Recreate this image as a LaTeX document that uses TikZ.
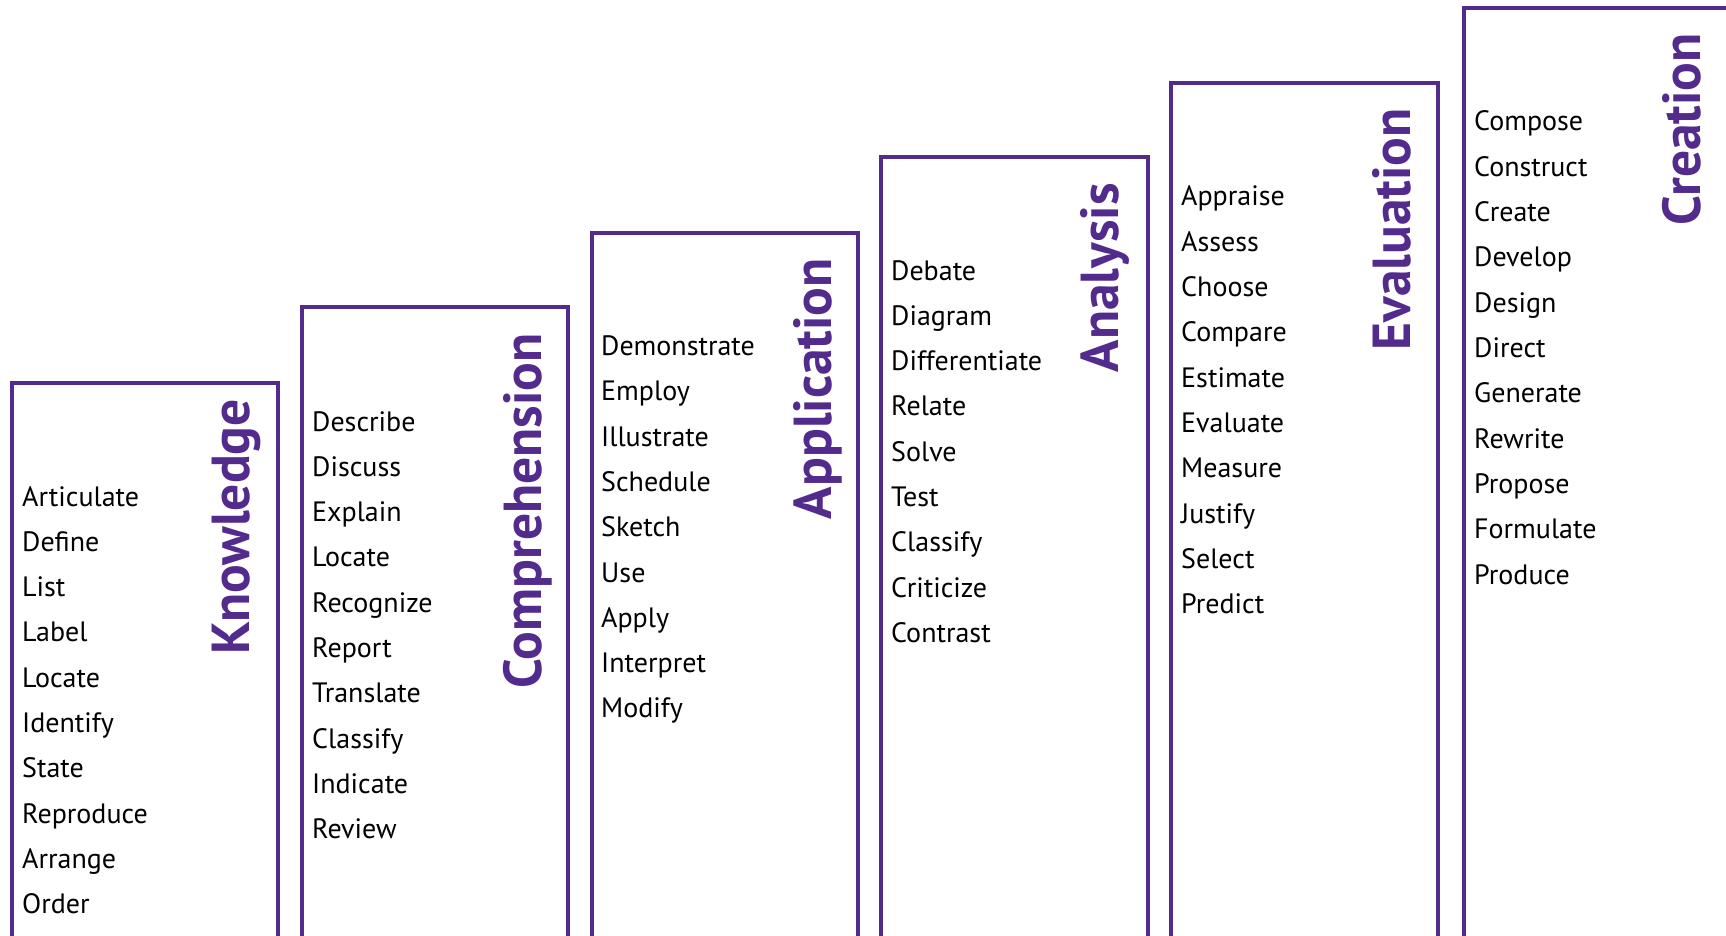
\documentclass[tikz,border=0pt]{standalone}
\usepackage{fontspec}
\setmainfont{PT Sans}
\definecolor{bpurple}{RGB}{82,43,140}
\newcommand{\wordfont}{\fontsize{28}{32}\selectfont}
\newcommand{\titlefont}{\fontsize{53.5}{60}\selectfont\bfseries}
\tikzset{
  frame/.style={draw=bpurple, line width=3.5pt},
  word/.style={anchor=base west, inner sep=0pt, font=\wordfont},
  ttl/.style={anchor=base east, rotate=90, inner sep=0pt, text=bpurple, font=\titlefont}
}
\begin{document}
\begin{tikzpicture}[x=1pt,y=-1pt]
\useasboundingbox (0,0) rectangle (1726,936);
\begin{scope}
\clip (0,0) rectangle (1726,936);
\draw[frame] (12,383) rectangle (278,937.5);
\draw[frame] (302,307) rectangle (568,937.5);
\draw[frame] (592,233) rectangle (858,937.5);
\draw[frame] (881,157) rectangle (1148,937.5);
\draw[frame] (1171,83) rectangle (1438,937.5);
\draw[frame] (1464,8) rectangle (1729,937.5);
\end{scope}
% titles
\node[ttl] (tk) at (249,399) {Knowledge};
\node[ttl] (tc) at (541,333) {Comprehension};
\node[ttl] (tap) at (831,258) {Application};
\node[ttl] (tan) at (1118,183) {Analysis};
\node[ttl] (te) at (1410,108) {Evaluation};
\node[ttl] (tcr) at (1700,33) {Creation};
% word lists
\foreach \w [count=\i] in {Articulate,Define,List,Label,Locate,Identify,State,Reproduce,Arrange,Order}
  \node[word] (k\i) at (22,{506+(\i-1)*45.3}) {\w};
\foreach \w [count=\i] in {Describe,Discuss,Explain,Locate,Recognize,Report,Translate,Classify,Indicate,Review}
  \node[word] (c\i) at (312,{431+(\i-1)*45.3}) {\w};
\foreach \w [count=\i] in {Demonstrate,Employ,Illustrate,Schedule,Sketch,Use,Apply,Interpret,Modify}
  \node[word] (p\i) at (601,{355.5+(\i-1)*45.3}) {\w};
\foreach \w [count=\i] in {Debate,Diagram,Differentiate,Relate,Solve,Test,Classify,Criticize,Contrast}
  \node[word] (a\i) at (891,{280+(\i-1)*45.3}) {\w};
\foreach \w [count=\i] in {Appraise,Assess,Choose,Compare,Estimate,Evaluate,Measure,Justify,Select,Predict}
  \node[word] (e\i) at (1181,{206+(\i-1)*45.3}) {\w};
\foreach \w [count=\i] in {Compose,Construct,Create,Develop,Design,Direct,Generate,Rewrite,Propose,Formulate,Produce}
  \node[word] (r\i) at (1474,{131+(\i-1)*45.3}) {\w};
\end{tikzpicture}
\end{document}
